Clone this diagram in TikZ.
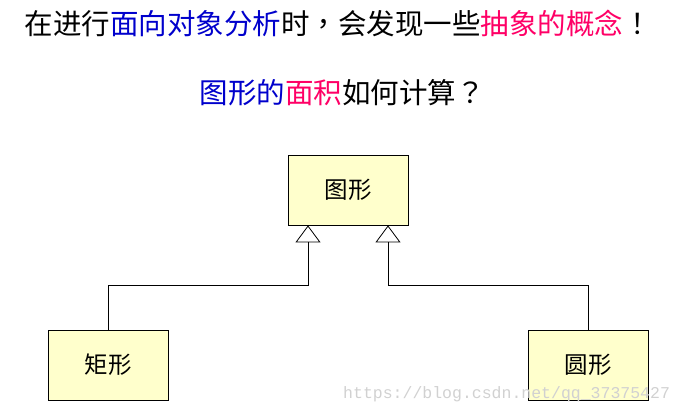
\documentclass[tikz,border=0pt]{standalone}
\usepackage{fontspec}
\setmainfont{Noto Sans CJK SC}
\newfontfamily\punctfont{Noto Sans CJK TC}
\newfontfamily\urlfont{Liberation Mono}
\usetikzlibrary{arrows.meta, positioning, calc}
\definecolor{oobblue}{HTML}{0000CC}
\definecolor{oobpink}{HTML}{FF0066}
\definecolor{oobbox}{HTML}{FFFFCC}

\begin{document}
\begin{tikzpicture}[x=1pt, y=-1pt,
  classbox/.style={draw=black, line width=0.8pt, fill=oobbox,
    minimum width=120pt, minimum height=70pt, inner sep=0pt,
    font=\fontsize{23.5}{26}\selectfont},
  inherit/.style={draw=black, line width=0.8pt,
    -{Triangle[open, length=17pt, width=25pt]}}]
  \useasboundingbox (0,0) rectangle (685,415);

  % Title lines
  \node[font=\fontsize{28.5}{30}\selectfont] (title) at (338,23)
    {在进行\textcolor{oobblue}{面向对象分析}时{\punctfont ，}会发现一些\textcolor{oobpink}{抽象的概念}{\punctfont ！}};
  \node[font=\fontsize{28.5}{30}\selectfont] (question) at (342,93)
    {\textcolor{oobblue}{图形的}\textcolor{oobpink}{面积}如何计算{\punctfont ？}};

  % Classes
  \node[classbox] (shape) at (348,190) {图形};
  \node[classbox] (rect) at (108,365) {矩形};
  \node[classbox] (round) at (588,365) {圆形};

  % Inheritance
  \coordinate (inL) at ([xshift=-40pt]shape.south);
  \coordinate (inR) at ([xshift=40pt]shape.south);
  \draw[inherit] (rect.north) -- ++(0,-44) -| (inL);
  \draw[inherit] (round.north) -- ++(0,-44) -| (inR);

  % Watermark
  \node[font=\urlfont\fontsize{16.5}{18}\selectfont, text=black!18,
    anchor=base west, inner sep=0pt] (mark) at (343,398)
    {https://blog.csdn.net/qq\_37375427};
\end{tikzpicture}
\end{document}
